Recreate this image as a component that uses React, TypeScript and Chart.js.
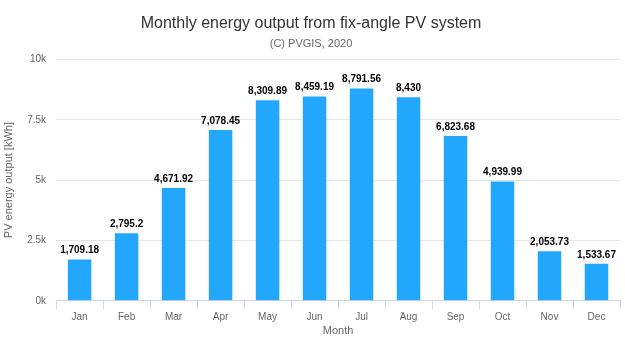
import React, { useEffect, useRef } from "react";
import { Chart, registerables } from "chart.js";

Chart.register(...registerables);

const months = ["Jan", "Feb", "Mar", "Apr", "May", "Jun", "Jul", "Aug", "Sep", "Oct", "Nov", "Dec"];
const energy = [1709.18, 2795.2, 4671.92, 7078.45, 8309.89, 8459.19, 8791.56, 8430, 6823.68, 4939.99, 2053.73, 1533.67];
const yTickLabels: Record<number, string> = { 0: "0k", 2500: "2.5k", 5000: "5k", 7500: "7.5k", 10000: "10k" };

const FONT = "'Liberation Sans', Arial, sans-serif";

const dataLabels = {
  id: "dataLabels",
  afterDatasetsDraw(chart: any) {
    const ctx = chart.ctx;
    const meta = chart.getDatasetMeta(0);
    ctx.save();
    ctx.font = `bold 10px ${FONT}`;
    ctx.fillStyle = "#000";
    ctx.textAlign = "center";
    ctx.textBaseline = "bottom";
    meta.data.forEach((bar: any, i: number) => {
      const v = chart.data.datasets[0].data[i] as number;
      ctx.fillText(v.toLocaleString("en-US", { maximumFractionDigits: 2 }), bar.x, bar.y - 4);
    });
    ctx.restore();
  },
};

export default function App() {
  const ref = useRef<HTMLCanvasElement>(null);
  useEffect(() => {
    document.body.style.margin = "0";
    const chart = new Chart(ref.current!, {
      type: "bar",
      data: {
        labels: months,
        datasets: [
          {
            data: energy,
            backgroundColor: "#22a7fc",
            barPercentage: 0.5,
            categoryPercentage: 1,
          },
        ],
      },
      plugins: [dataLabels],
      options: {
        animation: false,
        responsive: false,
        maintainAspectRatio: false,
        layout: { padding: { left: 2, right: 5, top: 0, bottom: 2 } },
        plugins: {
          legend: { display: false },
          tooltip: { enabled: false },
          title: {
            display: true,
            text: "Monthly energy output from fix-angle PV system",
            color: "#333",
            font: { family: FONT, size: 16, weight: "normal" },
            padding: { top: 14, bottom: 2 },
          },
          subtitle: {
            display: true,
            text: "(C) PVGIS, 2020",
            color: "#666",
            font: { family: FONT, size: 11 },
            padding: { top: 2, bottom: 9 },
          },
        },
        scales: {
          x: {
            offset: true,
            grid: {
              offset: true,
              drawOnChartArea: false,
              color: "#ccd6eb",
              tickLength: 8,
            },
            border: { color: "#ccd6eb" },
            ticks: { color: "#666", font: { family: FONT, size: 10 }, padding: 2 },
            title: {
              display: true,
              text: "Month",
              color: "#666",
              font: { family: FONT, size: 11 },
              padding: { top: 0, bottom: 0 },
            },
          },
          y: {
            min: 0,
            max: 10000,
            ticks: {
              stepSize: 2500,
              color: "#666",
              font: { family: FONT, size: 10 },
              padding: 10,
              callback: (v: any) => yTickLabels[v as number] ?? "",
            },
            grid: { color: "#e6e6e6", drawTicks: false },
            border: { display: false },
            title: {
              display: true,
              text: "PV energy output [kWh]",
              color: "#666",
              font: { family: FONT, size: 11 },
              padding: { top: 0, bottom: 2 },
            },
          },
        },
      },
    });
    return () => chart.destroy();
  }, []);
  return (
    <div style={{ width: 625, height: 340 }}>
      <canvas ref={ref} width={625} height={340} style={{ width: 625, height: 340 }} />
    </div>
  );
}
